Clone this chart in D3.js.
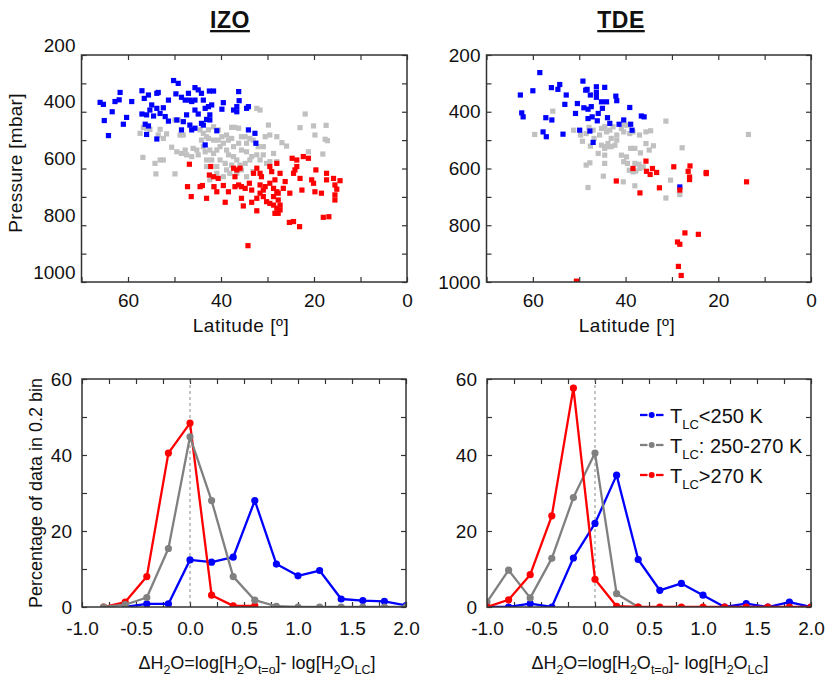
<!DOCTYPE html>
<html>
<head>
<meta charset="utf-8">
<script src="https://cdn.jsdelivr.net/npm/d3@7"></script>
<style>
  body { margin: 0; background: #fff; }
  text { font-family: "Liberation Sans", Arial, sans-serif; fill: #111; }
</style>
</head>
<body>
<svg id="chart" width="828" height="678"></svg>
<script>
// ---- scatter data: [latitude, pressure (mbar)] ----
var izoBlue = [
  [66.0,367],[65.3,374],[61.7,332],[62.8,364],[61.9,358],[63.4,400],[65.1,431],[64.2,484],[60.3,420],[61.0,444],
  [59.2,364],[57.0,326],[55.6,341],[56.5,353],[53.8,335],[53.5,332],[54.9,376],[53.8,388],[52.4,386],[51.3,359],
  [55.3,394],[57.0,408],[56.0,411],[54.5,415],[53.1,406],[52.0,417],[51.3,433],[56.3,444],[55.6,450],[53.8,496],
  [56.0,480],[50.2,290],[49.2,300],[49.7,337],[48.5,349],[47.0,335],[47.7,359],[46.7,359],[45.6,315],[44.9,323],
  [46.3,364],[45.6,359],[43.8,359],[42.5,327],[41.6,327],[44.2,335],[49.5,429],[48.1,435],[47.4,411],[48.5,464],
  [46.3,464],[46.7,447],[45.6,394],[44.9,408],[45.6,458],[43.4,388],[42.7,382],[42.0,376],[42.4,411],[43.1,427],
  [43.8,447],[44.2,441],[39.5,368],[39.8,391],[40.9,467],[37.3,394],[36.6,400],[36.2,329],[36.1,361],[36.6,382],
  [34.1,382],[34.5,388],[34.1,464],[32.7,476],[32.5,511],[42.4,429],[43.4,517]
];
var izoGray = [
  [57.4,476],[56.8,561],[54.2,582],[54.0,619],[53.1,570],[52.4,570],[49.9,619],[56.7,455],[56.0,458],[55.3,462],
  [53.1,462],[53.5,482],[52.4,494],[51.7,478],[50.6,525],[49.9,429],[49.2,429],[48.8,482],[48.1,482],[49.5,541],
  [48.5,547],[47.4,552],[47.7,535],[46.0,529],[45.2,535],[46.3,558],[44.9,552],[44.5,464],[43.8,476],[43.1,488],
  [42.7,494],[44.2,500],[43.8,523],[43.4,541],[42.4,535],[41.6,547],[40.9,535],[40.2,523],[39.5,511],[40.6,500],
  [38.4,500],[37.7,494],[38.8,482],[37.7,455],[37.0,455],[36.2,458],[35.6,488],[34.8,488],[33.8,494],[35.6,535],
  [34.5,541],[33.4,558],[32.3,552],[32.0,523],[30.9,523],[30.5,488],[29.5,482],[29.8,447],[28.0,488],[26.9,509],
  [25.9,521],[23.0,456],[21.9,408],[20.1,450],[17.4,448],[17.6,497],[17.1,502],[19.8,482],[21.2,541],[18.1,549],
  [32.3,388],[31.6,394],[43.1,593],[42.4,640],[41.6,664],[40.2,570],[39.1,582],[38.8,605],[39.5,629],[38.1,617],
  [37.3,558],[36.6,570],[35.9,588],[34.8,582],[33.8,570],[31.6,570],[30.2,582],[29.5,576],[28.0,576],[40.9,593],
  [42.0,570],[43.1,570],[41.6,500],[40.6,464],[39.8,488],[38.8,535],[37.3,523],[36.2,511],[34.5,511],[33.1,500],
  [41.6,453],[42.7,464],[38.4,552],[37.7,588],[35.6,605],[34.5,629],[33.1,611],[40.9,617],[36.6,617],[30.9,552],
  [28.7,547]
];
var izoRed = [
  [46.8,585],[47.2,664],[46.4,699],[43.1,705],[44.0,660],[42.5,623],[41.6,629],[42.2,593],[41.5,664],[39.5,660],
  [39.1,719],[37.3,599],[36.6,605],[37.0,629],[35.9,599],[36.2,658],[37.0,664],[35.6,664],[34.8,670],[35.6,705],
  [35.2,732],[33.4,719],[32.3,749],[33.0,617],[32.3,599],[31.6,617],[31.3,629],[29.5,593],[29.1,611],[28.0,582],
  [27.3,617],[28.4,640],[29.5,652],[28.7,670],[28.0,682],[26.6,670],[25.2,687],[26.2,646],[24.7,564],[23.7,570],
  [24.1,605],[23.7,593],[24.4,617],[22.6,676],[22.3,558],[21.2,564],[19.6,605],[20.5,640],[20.1,652],[19.8,682],
  [18.4,687],[17.3,617],[17.3,640],[15.8,635],[14.4,643],[15.5,658],[15.1,673],[15.5,693],[15.5,711],[23.0,635],
  [30.9,676],[31.6,687],[32.3,705],[30.9,699],[30.2,717],[29.5,723],[28.7,729],[28.0,740],[28.4,758],[27.7,758],
  [28.7,699],[27.7,711],[27.3,729],[33.4,676],[33.9,652],[25.3,790],[24.4,787],[23.1,805],[18.0,772],[16.8,770],
  [34.2,872],[40.6,635],[38.4,682],[44.5,664],[40.9,682],[31.6,658],[30.5,664],[27.3,746],[27.7,687]
];
var tdeBlue = [
  [58.5,262],[62.7,341],[62.4,404],[62.1,418],[60.0,326],[56.0,315],[54.2,304],[54.6,321],[52.8,341],[53.1,374],
  [57.2,421],[55.9,429],[57.8,471],[57.1,488],[53.5,479],[49.2,292],[48.6,324],[48.3,321],[50.4,371],[49.0,386],
  [48.1,391],[47.4,382],[50.8,406],[48.1,424],[47.2,418],[46.1,432],[47.6,341],[46.3,312],[46.3,332],[46.3,349],
  [45.2,365],[44.1,365],[44.5,314],[45.0,388],[45.9,406],[43.9,421],[43.4,441],[42.1,345],[41.9,361],[40.4,429],
  [38.9,444],[39.1,385],[38.6,465],[36.6,415],[36.0,418],[47.7,468],[47.0,508],[49.9,465],[41.4,444],[28.3,665]
];
var tdeGray = [
  [55.7,398],[59.6,480],[51.2,465],[49.3,504],[49.7,482],[48.5,477],[47.9,455],[47.0,465],[46.8,494],[47.6,521],
  [45.9,547],[45.2,518],[45.6,482],[45.2,459],[44.5,453],[44.1,471],[43.4,465],[42.7,453],[41.9,482],[43.1,494],
  [43.8,512],[44.1,523],[43.1,523],[42.3,518],[44.5,529],[41.9,500],[40.9,459],[40.2,447],[39.4,447],[40.4,471],
  [39.1,477],[38.4,471],[37.0,482],[35.6,471],[34.6,467],[35.6,512],[34.9,535],[38.9,529],[38.0,529],[40.9,553],
  [39.8,559],[40.4,576],[39.6,582],[39.2,606],[38.4,612],[38.0,582],[37.1,585],[37.8,609],[36.9,600],[40.5,647],
  [38.0,661],[44.5,553],[44.5,582],[44.8,627],[48.5,588],[47.7,580],[48.1,667],[34.0,520],[31.3,433],[27.8,527],
  [30.3,641],[31.3,704],[28.3,692],[13.5,480],[36.8,545],[36.2,594]
];
var tdeRed = [
  [38.4,600],[42.0,644],[36.9,686],[35.6,574],[35.5,610],[34.7,621],[34.2,600],[33.3,614],[32.7,668],[29.6,594],
  [28.3,676],[26.5,610],[26.1,591],[26.2,630],[26.2,639],[22.6,614],[22.6,618],[13.9,647],[27.2,827],[24.3,832],
  [28.8,859],[28.3,867],[28.6,945],[28.0,977],[50.6,997]
];

// ---- histogram data: percentage of data per 0.2 bin of dH2O ----
var bins = [-1.0, -0.8, -0.6, -0.4, -0.2, 0.0, 0.2, 0.4, 0.6, 0.8, 1.0, 1.2, 1.4, 1.6, 1.8, 2.0];
var izoPctBlue = [null, null, 0, 0.8, 0.8, 12.4, 11.8, 13.1, 28, 11.3, 8.2, 9.6, 2.1, 1.7, 1.5, 0.4];
var izoPctGray = [null, 0, 0.6, 2.5, 15.4, 44.8, 28, 8, 1.8, 0.2, 0, 0, 0, 0, 0, 0];
var izoPctRed  = [null, 0, 1.3, 8, 40.5, 48.4, 3.1, 0.3, 0.3, null, null, null, null, null, null, null];
var tdePctBlue = [0, 0, 0.9, 0, 12.9, 22, 34.7, 12.5, 4.4, 6.2, 3.1, 0, 0.9, 0, 1.3, 0];
var tdePctGray = [1.3, 9.7, 2.4, 12.8, 28.8, 40.5, 3.5, 0, null, null, null, null, null, null, null, null];
var tdePctRed  = [0, 1.9, 8.5, 24, 57.6, 7.3, 0.2, 0, 0, 0, 0, 0, 0, 0, 0, 0];

// ---- axis ticks / labels ----
var latTicks = [70, 60, 50, 40, 30, 20, 10, 0];
var latLabels = [60, 40, 20, 0];
var presTicks = [200, 300, 400, 500, 600, 700, 800, 900, 1000];
var presLabels = [200, 400, 600, 800, 1000];
var dTicks = [-1.0, -0.75, -0.5, -0.25, 0, 0.25, 0.5, 0.75, 1.0, 1.25, 1.5, 1.75, 2.0];
var dLabels = [-1.0, -0.5, 0, 0.5, 1.0, 1.5, 2.0];
var pctTicks = [0, 10, 20, 30, 40, 50, 60];
var pctLabels = [0, 20, 40, 60];
var legendNames = ["<250 K", ": 250-270 K", ">270 K"];

var svg = d3.select("#chart");
var markColor = { blue: "#0000ff", gray: "#c0c0c0", red: "#ff0000" };
var lineColor = { blue: "#0000ff", gray: "#808080", red: "#ff0000" };
var axisColor = "#333";
var tickFont = "19px";

function hasLabel(list, d) {
  return list.some(function(v) { return Math.abs(v - d) < 1e-9; });
}

// Builds a framed panel with inward ticks on all four sides
function makePanel(id, box, xDomain, yDomain, o) {
  var x = d3.scaleLinear().domain(xDomain).range([box.l, box.r]);
  var y = d3.scaleLinear().domain(yDomain).range([box.b, box.t]);
  var g = svg.append("g");

  g.append("clipPath").attr("id", id)
    .append("rect")
    .attr("x", box.l).attr("y", box.t)
    .attr("width", box.r - box.l).attr("height", box.b - box.t);

  var fmtX = function(d) { return hasLabel(o.xLabels, d) ? o.fmtX(d) : ""; };
  var fmtY = function(d) { return hasLabel(o.yLabels, d) ? o.fmtY(d) : ""; };

  g.append("g").attr("transform", "translate(0," + box.b + ")")
    .call(d3.axisBottom(x).tickValues(o.xTicks).tickSize(-5).tickPadding(o.xPad).tickFormat(fmtX));
  g.append("g").attr("transform", "translate(0," + box.t + ")")
    .call(d3.axisTop(x).tickValues(o.xTicks).tickSize(-5).tickFormat(""));
  var axL = g.append("g").attr("transform", "translate(" + box.l + ",0)")
    .call(d3.axisLeft(y).tickValues(o.yTicks).tickSize(-5).tickPadding(o.yPad).tickFormat(fmtY));
  g.append("g").attr("transform", "translate(" + box.r + ",0)")
    .call(d3.axisRight(y).tickValues(o.yTicks).tickSize(-5).tickFormat(""));

  g.selectAll(".domain").remove();
  g.selectAll(".tick line").attr("stroke", axisColor).attr("stroke-width", 1.2);
  g.selectAll(".tick text").attr("font-size", tickFont)
    .attr("font-family", "Liberation Sans, Arial, sans-serif").attr("fill", "#111");
  if (o.yShift) axL.selectAll(".tick text").attr("transform", "translate(0," + o.yShift + ")");

  var plot = g.append("g").attr("clip-path", "url(#" + id + ")");

  g.append("rect")
    .attr("x", box.l).attr("y", box.t)
    .attr("width", box.r - box.l).attr("height", box.b - box.t)
    .attr("fill", "none").attr("stroke", axisColor).attr("stroke-width", 1.5);

  return { x: x, y: y, g: g, plot: plot, box: box };
}

function scatter(p, data, color) {
  p.plot.append("g").selectAll("rect")
    .data(data)
    .join("rect")
    .attr("x", function(d) { return p.x(d[0]) - 2.6; })
    .attr("y", function(d) { return p.y(d[1]) - 2.6; })
    .attr("width", 5.2).attr("height", 5.2)
    .attr("fill", color);
}

function series(p, values, color) {
  var pts = bins.map(function(b, i) { return [b, values[i]]; })
    .filter(function(d) { return d[1] != null; });
  var line = d3.line().x(function(d) { return p.x(d[0]); }).y(function(d) { return p.y(d[1]); });
  p.plot.append("path").datum(pts)
    .attr("d", line).attr("fill", "none")
    .attr("stroke", color).attr("stroke-width", 2.3).attr("stroke-linejoin", "round");
  p.plot.append("g").selectAll("circle")
    .data(pts)
    .join("circle")
    .attr("cx", function(d) { return p.x(d[0]); })
    .attr("cy", function(d) { return p.y(d[1]); })
    .attr("r", 3.6).attr("fill", color);
}

function zeroLine(p) {
  p.plot.append("line")
    .attr("x1", p.x(0)).attr("x2", p.x(0))
    .attr("y1", p.box.t).attr("y2", p.box.b)
    .attr("stroke", "#888").attr("stroke-width", 1).attr("stroke-dasharray", "3,3");
}

var latOpts = {
  xTicks: latTicks, xLabels: latLabels, fmtX: String, xPad: 12,
  yTicks: presTicks, yLabels: presLabels, fmtY: String, yPad: 6
};
var pctOpts = {
  xTicks: dTicks, xLabels: dLabels, fmtX: function(d) { return d.toFixed(1); }, xPad: 15,
  yTicks: pctTicks, yLabels: pctLabels, fmtY: String, yPad: 10
};

// ---- top: pressure vs latitude ----
var pIzo = makePanel("clipIzo", { l: 81.5, r: 407, t: 55, b: 282 }, [70, 0], [1000, 200],
  Object.assign({}, latOpts, { yShift: -10 }));
scatter(pIzo, izoGray, markColor.gray);
scatter(pIzo, izoBlue, markColor.blue);
scatter(pIzo, izoRed, markColor.red);

var pTde = makePanel("clipTde", { l: 486.5, r: 811, t: 55, b: 282 }, [70, 0], [1000, 200], latOpts);
scatter(pTde, tdeGray, markColor.gray);
scatter(pTde, tdeBlue, markColor.blue);
scatter(pTde, tdeRed, markColor.red);

// ---- bottom: histograms ----
var hIzo = makePanel("clipHIzo", { l: 82, r: 406, t: 379, b: 607 }, [-1, 2], [0, 60], pctOpts);
zeroLine(hIzo);
series(hIzo, izoPctBlue, lineColor.blue);
series(hIzo, izoPctRed, lineColor.red);
series(hIzo, izoPctGray, lineColor.gray);

var hTde = makePanel("clipHTde", { l: 487, r: 811, t: 379, b: 607 }, [-1, 2], [0, 60], pctOpts);
zeroLine(hTde);
series(hTde, tdePctBlue, lineColor.blue);
series(hTde, tdePctGray, lineColor.gray);
series(hTde, tdePctRed, lineColor.red);

// ---- titles and axis labels ----
function title(x, label) {
  svg.append("text").attr("x", x).attr("y", 28)
    .attr("text-anchor", "middle").attr("font-size", "23px").attr("font-weight", "bold")
    .attr("letter-spacing", "0.5px")
    .style("text-decoration", "underline")
    .text(label);
}
title(230, "IZO");
title(621, "TDE");

svg.append("text").attr("transform", "translate(22,163) rotate(-90)")
  .attr("text-anchor", "middle").attr("font-size", "19px").attr("letter-spacing", "0.3px")
  .text("Pressure [mbar]");
svg.append("text").attr("transform", "translate(42,493) rotate(-90)")
  .attr("text-anchor", "middle").attr("font-size", "18px").text("Percentage of data in 0.2 bin");

[241, 627].forEach(function(cx) {
  svg.append("text").attr("x", cx).attr("y", 332)
    .attr("text-anchor", "middle").attr("font-size", "19px").attr("letter-spacing", "0.5px")
    .text("Latitude [\u00ba]");
});

function dLabel(cx) {
  var t = svg.append("text").attr("x", cx).attr("y", 669)
    .attr("text-anchor", "middle").attr("font-size", "18px");
  var parts = [
    ["\u0394H", 0], ["2", 1], ["O=log[H", 0], ["2", 1], ["O", 0], ["t=o", 1],
    ["]- log[H", 0], ["2", 1], ["O", 0], ["LC", 1], ["]", 0]
  ];
  var low = false;
  parts.forEach(function(pt) {
    var sub = pt[1] === 1;
    var dy = sub && !low ? 5 : (!sub && low ? -5 : 0);
    low = sub;
    t.append("tspan").attr("dy", dy).attr("font-size", sub ? "12.5px" : "18px").text(pt[0]);
  });
}
dLabel(257);
dLabel(650);

// ---- legend ----
var legColors = [lineColor.blue, lineColor.gray, lineColor.red];
var leg = svg.append("g");
legendNames.forEach(function(name, i) {
  var yy = 415 + i * 30;
  var c = legColors[i];
  leg.append("line").attr("x1", 640).attr("x2", 647.5).attr("y1", yy).attr("y2", yy)
    .attr("stroke", c).attr("stroke-width", 2.3);
  leg.append("line").attr("x1", 656).attr("x2", 663.5).attr("y1", yy).attr("y2", yy)
    .attr("stroke", c).attr("stroke-width", 2.3);
  leg.append("circle").attr("cx", 651.7).attr("cy", yy).attr("r", 3).attr("fill", c);
  var t = leg.append("text").attr("x", 670).attr("y", yy + 7.5).attr("font-size", "20px");
  t.append("tspan").text("T");
  t.append("tspan").attr("dy", 6).attr("font-size", "13px").text("LC");
  t.append("tspan").attr("dy", -6).text(name);
});
</script>
</body>
</html>
